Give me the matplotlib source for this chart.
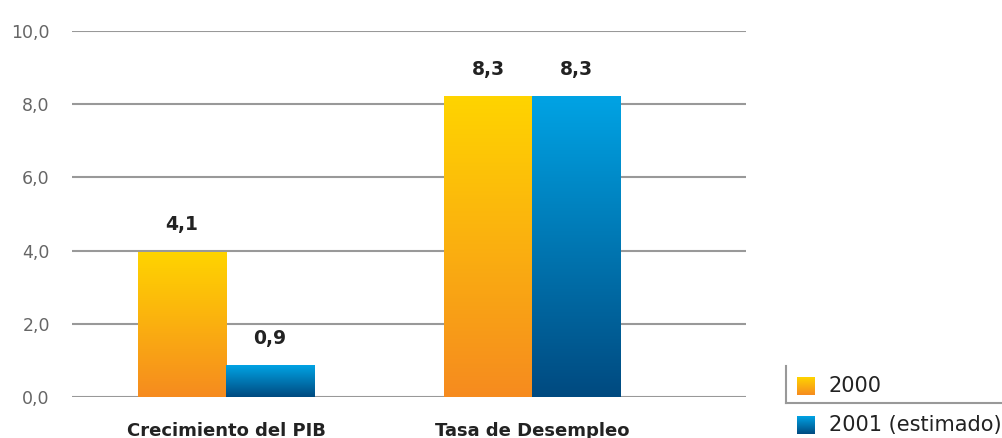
import matplotlib.pyplot as plt
import numpy as np
from matplotlib.colors import LinearSegmentedColormap
from matplotlib.lines import Line2D

plt.rcParams['font.family'] = ['DejaVu Sans']

# datos del grafico
categorias = ['Crecimiento del PIB', 'Tasa de Desempleo']
series = ['2000', '2001 (estimado)']
v2000 = [3.96, 8.2]
v2001 = [0.85, 8.2]
et2000 = ['4,1', '8,3']
et2001 = ['0,9', '8,3']
yticks = [0, 2, 4, 6, 8, 10]
ytlab = ['0,0', '2,0', '4,0', '6,0', '8,0', '10,0']

cm_am = LinearSegmentedColormap.from_list('am', ['#F68B1F', '#FFD400'])
cm_az = LinearSegmentedColormap.from_list('az', ['#004A80', '#00A3E4'])

fig = plt.figure(figsize=(10.02, 4.38), dpi=100)
ax = fig.add_axes([0.0719, 0.0936, 0.6727, 0.8356])

grad = np.linspace(0, 1, 256).reshape(-1, 1)
w = 0.2876

def barra(x0, h, cmap, lab):
    ax.imshow(grad, cmap=cmap, origin='lower', aspect='auto',
              extent=[x0, x0 + w, 0, h], zorder=3)
    ax.text(x0 + w / 2, h + 0.5, lab, ha='center', va='bottom',
            fontsize=13.5, fontweight='bold', color='#222222', zorder=4)

for i in range(len(categorias)):
    barra(i - w, v2000[i], cm_am, et2000[i])
    barra(i, v2001[i], cm_az, et2001[i])

ax.set_xlim(-0.503, 1.699)
ax.set_ylim(0, 10)
ax.set_yticks(yticks)
ax.set_yticklabels(ytlab, color='#666666', fontsize=12.5)
ax.set_xticks(range(len(categorias)))
ax.set_xticklabels(categorias, fontsize=13, fontweight='bold', color='#222222')
ax.tick_params(axis='y', length=0, pad=16)
ax.tick_params(axis='x', length=0, pad=18)
for s in ax.spines.values():
    s.set_visible(False)
ax.grid(axis='y', color='#999999', linewidth=1.5, zorder=1)
ax.set_axisbelow(True)

# leyenda
fig.add_artist(Line2D([786 / 1002, 786 / 1002], [1 - 366 / 438, 1 - 403 / 438],
                      color='#999999', lw=1.5))
fig.add_artist(Line2D([786 / 1002, 1.0], [1 - 403 / 438, 1 - 403 / 438],
                      color='#999999', lw=1.5))
for j, (nom, cm) in enumerate(zip(series, [cm_am, cm_az])):
    yc = 386 + j * 39
    sq = fig.add_axes([797 / 1002, 1 - (yc + 9) / 438, 18 / 1002, 18 / 438])
    sq.imshow(grad, cmap=cm, origin='lower', aspect='auto')
    sq.axis('off')
    fig.text(829 / 1002, 1 - yc / 438, nom, fontsize=15, color='#222222',
             va='center', ha='left')

plt.savefig('out.png', dpi=100)
